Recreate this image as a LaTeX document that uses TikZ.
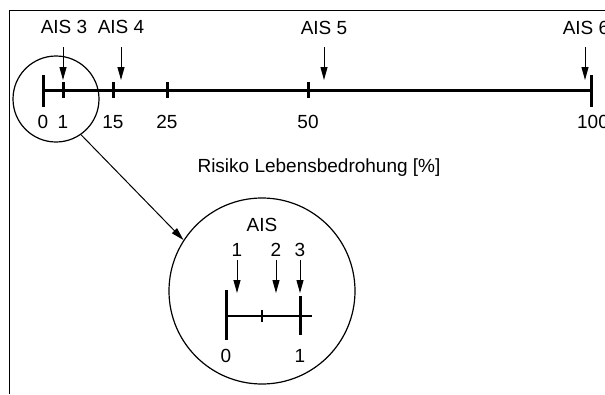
\documentclass[tikz,border=0pt]{standalone}
\usepackage{fontspec}
\setmainfont{Liberation Sans}
\usetikzlibrary{arrows.meta}
\begin{document}
\begin{tikzpicture}[x=1pt,y=-1pt,
  lbl/.style={font=\fontsize{19}{19}\selectfont, anchor=base, inner sep=0pt},
  pointer/.style={line width=1pt, -{Triangle[length=13pt,width=7pt]}},
  axisline/.style={line width=3pt},
  thinaxis/.style={line width=2.2pt},
  tickmark/.style={line width=3pt},
  minortick/.style={line width=1.2pt},
  ring/.style={circle, draw, line width=1.2pt, inner sep=0pt}]
\useasboundingbox (0,0) rectangle (605,394);
% frame
\draw[line width=1pt] (605,10) -- (9,10) -- (9,394);

% main scale
\draw[axisline] (43,90) -- (591,90);
\draw[tickmark] (43,75) -- (43,107);
\draw[tickmark] (591,75) -- (591,107);
\foreach \x in {63,113,167,308} \draw[tickmark] (\x,82) -- (\x,98);
\node[lbl] (n0)   at (43,128)  {0};
\node[lbl] (n1)   at (63,128)  {1};
\node[lbl] (n15)  at (113,128) {15};
\node[lbl] (n25)  at (167,128) {25};
\node[lbl] (n50)  at (308,128) {50};
\node[lbl] (n100) at (593,128) {100};

% AIS markers on the main scale
\node[lbl] (a3) at (64,33)  {AIS 3};
\node[lbl] (a4) at (121,33) {AIS 4};
\node[lbl] (a5) at (324,34) {AIS 5};
\node[lbl] (a6) at (586,34) {AIS 6};
\foreach \x/\n in {63/3,121/4,324/5,585/6}{
  \coordinate (p\n s) at (\x,47);
  \coordinate (p\n e) at (\x,80);
  \draw[pointer] (p\n s) -- (p\n e);
}

\node[lbl] (title) at (319,172) {Risiko Lebensbedrohung [\%]};

% magnifier circles
\node[ring, minimum size=86pt]  (sc) at (56,99)   {};
\node[ring, minimum size=186pt] (bc) at (262,291) {};
\draw[pointer] (sc.-55) -- (bc.147);

% enlarged scale 0..1
\node[lbl] (ais) at (262,231) {AIS};
\node[lbl] (i1) at (237,256) {1};
\node[lbl] (i2) at (276,256) {2};
\node[lbl] (i3) at (300,256) {3};
\foreach \x/\n in {237/1,276/2,300/3}{
  \coordinate (q\n s) at (\x,260);
  \coordinate (q\n e) at (\x,293);
  \draw[pointer] (q\n s) -- (q\n e);
}
\draw[thinaxis] (226,316) -- (312,316);
\draw[tickmark] (226,290) -- (226,340);
\draw[tickmark] (300,296) -- (300,335);
\draw[minortick] (262,310) -- (262,322);
\node[lbl] (z0) at (226,362) {0};
\node[lbl] (z1) at (300,362) {1};
\end{tikzpicture}
\end{document}
